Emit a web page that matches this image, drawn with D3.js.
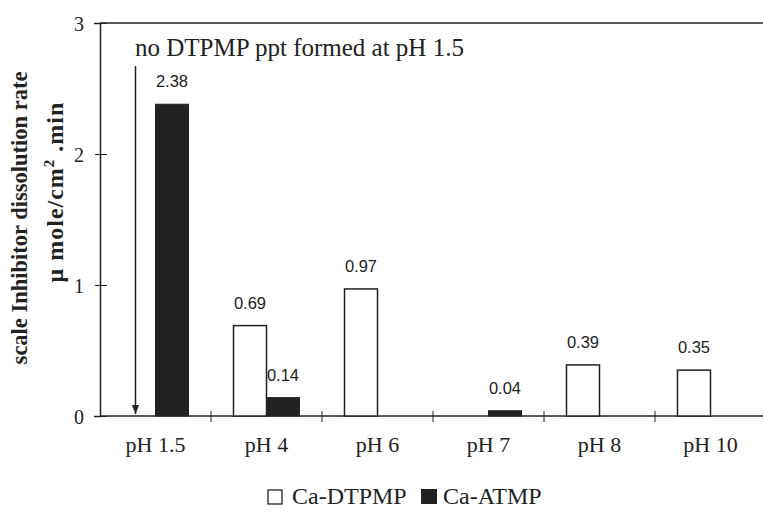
<!DOCTYPE html>
<html>
<head>
<meta charset="utf-8">
<script src="https://cdn.jsdelivr.net/npm/d3@7"></script>
<style>
body{margin:0;background:#fff;}
text{fill:#222;}
</style>
</head>
<body>
<div class="bod"></div>
<script>
// data
var categories = ['pH 1.5','pH 4','pH 6','pH 7','pH 8','pH 10']
var dtpmp = [null,0.69,0.97,null,0.39,0.35]
var atmp = [2.38,0.14,null,0.04,null,null]
var yTicks = [0,1,2,3]

var serif = '"Liberation Serif","Times New Roman",serif'
var sans = '"Liberation Sans",Arial,sans-serif'
var size = {width:763,height:521,left:100,top:23,bottom:416,right:766}

const svg = d3.select('.bod').append('svg')
  .attr('width',size.width).attr('height',size.height)

let x = d3.scaleBand().domain(categories).range([size.left,size.right])
let y = d3.scaleLinear().domain([0,3]).range([size.bottom,size.top])
let barW = 33

// frame top line
svg.append('line')
  .attr('x1',size.left).attr('x2',size.width)
  .attr('y1',y(3)).attr('y2',y(3))
  .attr('stroke','#222').attr('stroke-width',1.5)

// y axis
let yAxis = svg.append('g')
  .attr('transform',`translate(${size.left},0)`)
  .call(d3.axisLeft(y).tickValues(yTicks).tickSize(6).tickFormat(d3.format('d')))
yAxis.select('.domain').attr('stroke','#222').attr('stroke-width',1.5)
yAxis.selectAll('.tick line').attr('x1',-5).attr('x2',7).attr('stroke','#222')
yAxis.selectAll('.tick text').attr('x',-16).attr('dy','0.35em')
  .attr('font-size',20).attr('font-family',serif)

// x axis
let xAxis = svg.append('g')
  .attr('transform',`translate(0,${size.bottom})`)
  .call(d3.axisBottom(x).tickSize(0).tickPadding(20))
xAxis.select('.domain').attr('d',`M${size.left},0H${size.width}`).attr('stroke','#222').attr('stroke-width',1.5)
xAxis.selectAll('.tick text').attr('dy','0.71em')
  .attr('font-size',22).attr('font-family',serif)
// tick marks between categories
svg.append('g').selectAll('line')
  .data(categories.slice(1))
  .enter().append('line')
  .attr('x1',d=>x(d)).attr('x2',d=>x(d))
  .attr('y1',size.bottom-5).attr('y2',size.bottom+6)
  .attr('stroke','#222')

// bars
let dtRows = categories.map((c,i)=>({c:c,v:dtpmp[i]})).filter(d=>d.v!=null)
let atRows = categories.map((c,i)=>({c:c,v:atmp[i]})).filter(d=>d.v!=null)
let bars = svg.append('g')
bars.selectAll('.dt')
  .data(dtRows)
  .enter().append('rect')
  .attr('x',d=>x(d.c)+x.bandwidth()/2-barW)
  .attr('y',d=>y(d.v))
  .attr('width',barW)
  .attr('height',d=>y(0)-y(d.v))
  .attr('fill','#fff').attr('stroke','#222').attr('stroke-width',1.5)
bars.selectAll('.at')
  .data(atRows)
  .enter().append('rect')
  .attr('x',d=>x(d.c)+x.bandwidth()/2)
  .attr('y',d=>y(d.v))
  .attr('width',barW)
  .attr('height',d=>y(0)-y(d.v))
  .attr('fill','#222').attr('stroke','#222').attr('stroke-width',1)

// value labels
let labels = svg.append('g').attr('font-size',16.5).attr('font-family',sans)
labels.selectAll('.ldt')
  .data(dtRows)
  .enter().append('text')
  .attr('x',d=>x(d.c)+x.bandwidth()/2-barW/2)
  .attr('y',d=>y(d.v)-17)
  .attr('text-anchor','middle')
  .text(d=>d3.format('.2f')(d.v))
labels.selectAll('.lat')
  .data(atRows)
  .enter().append('text')
  .attr('x',d=>x(d.c)+x.bandwidth()/2+barW/2)
  .attr('y',d=>y(d.v)-17)
  .attr('text-anchor','middle')
  .text(d=>d3.format('.2f')(d.v))

// annotation arrow
let ax = x('pH 1.5')+x.bandwidth()/2-20
svg.append('defs').append('marker')
  .attr('id','arr').attr('viewBox','0 0 10 10').attr('refX',10).attr('refY',5)
  .attr('markerWidth',6).attr('markerHeight',8).attr('orient','auto')
  .append('path').attr('d','M0,1L10,5L0,9Z').attr('fill','#222')
svg.append('line')
  .attr('x1',ax).attr('x2',ax)
  .attr('y1',66).attr('y2',size.bottom-2)
  .attr('stroke','#222').attr('stroke-width',1.5)
  .attr('marker-end','url(#arr)')
svg.append('text')
  .attr('x',135).attr('y',56)
  .attr('font-size',25).attr('font-family',serif)
  .text('no DTPMP ppt formed at pH 1.5')

// y axis titles
svg.append('text')
  .attr('transform','translate(27,218) rotate(-90)')
  .attr('text-anchor','middle')
  .attr('font-size',22.5).attr('font-weight','bold').attr('font-family',serif)
  .text('scale Inhibitor dissolution rate')
let t2 = svg.append('text')
  .attr('transform','translate(63,192) rotate(-90)')
  .attr('text-anchor','middle')
  .attr('font-size',24).attr('font-weight','bold').attr('font-family',serif)
  .attr('letter-spacing',1)
t2.append('tspan').text('\u03bc mole/cm')
t2.append('tspan').attr('dy','-9').attr('font-size',15).text('2')
t2.append('tspan').attr('dy','9').text(' .min')

// legend
let leg = svg.append('g').attr('transform','translate(0,504)')
  .attr('font-size',24).attr('font-family',serif)
leg.append('rect').attr('x',268).attr('y',-14).attr('width',14).attr('height',14)
  .attr('fill','#fff').attr('stroke','#222').attr('stroke-width',1.3)
leg.append('text').attr('x',292).attr('y',0).text('Ca-DTPMP')
leg.append('rect').attr('x',421).attr('y',-15).attr('width',16).attr('height',15)
  .attr('fill','#222')
leg.append('text').attr('x',443).attr('y',0).text('Ca-ATMP')
</script>
</body>
</html>
